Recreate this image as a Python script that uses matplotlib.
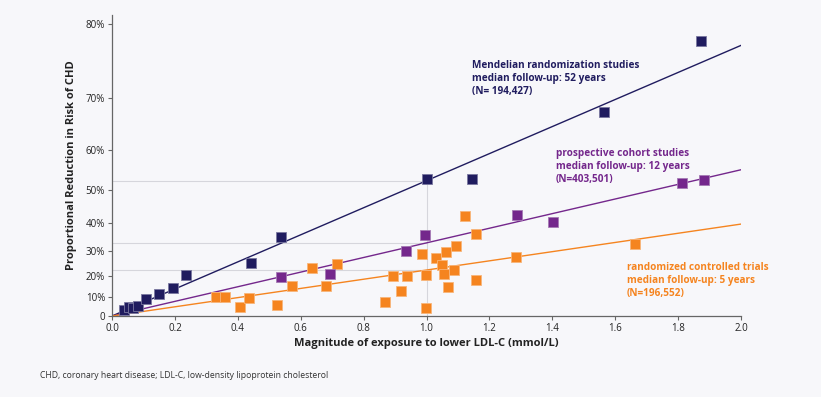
import numpy as np
import matplotlib
matplotlib.use("Agg")
import matplotlib.pyplot as plt

plt.rcParams['font.family'] = ['Open Sans', 'DejaVu Sans']

# data: x = mmol/L lower LDL-C, y = % reduction in CHD risk
mr_x = [0.039, 0.055, 0.068, 0.084, 0.108, 0.150, 0.195, 0.236, 0.442, 0.537,
        1.003, 1.145, 1.565, 1.873]
mr_y = [3.3, 5.0, 4.2, 5.5, 8.8, 11.3, 14.3, 20.3, 25.2, 35.3,
        53.0, 53.0, 67.6, 78.1]

pc_x = [0.537, 0.693, 0.935, 0.995, 1.289, 1.402, 1.813, 1.883]
pc_y = [19.5, 20.6, 30.3, 36.1, 42.7, 40.6, 51.9, 52.7]

rct_x = [0.331, 0.360, 0.407, 0.436, 0.524, 0.571, 0.636, 0.680, 0.716, 0.868,
         0.894, 0.920, 0.939, 0.987, 0.997, 0.997, 1.030, 1.049, 1.057, 1.061,
         1.068, 1.088, 1.094, 1.123, 1.156, 1.156, 1.285, 1.663]
rct_y = [9.8, 9.8, 5.0, 9.6, 5.7, 15.3, 23.2, 15.4, 24.8, 7.3,
         20.0, 12.8, 20.0, 28.9, 20.1, 4.5, 27.5, 24.4, 20.7, 29.7,
         14.7, 22.3, 31.9, 42.5, 36.5, 18.2, 27.8, 32.6]

# fitted reduction per 1 mmol/L (log-linear lines)
per_mmol = {'mr': 52.6, 'pc': 33.2, 'rct': 22.4}

navy = '#201c5f'
purple = '#74278c'
orange = '#f5841f'
bg = '#f7f7fa'


def fwd(y):
    y = np.asarray(y, dtype=float)
    return -np.log(1 - np.clip(y, None, 99.9) / 100.0)


def inv(z):
    return 100.0 * (1 - np.exp(-np.asarray(z, dtype=float)))


fig = plt.figure(figsize=(8.21, 3.97), dpi=100, facecolor=bg)
ax = fig.add_axes([112/821, 1 - 316/397, (741-112)/821, (316-15)/397])
ax.set_facecolor(bg)
ax.set_yscale('function', functions=(fwd, inv))
ax.set_xlim(0, 2.0)
ax.set_ylim(0, 81)

# reference lines at 1 mmol/L
for v in per_mmol.values():
    ax.plot([0, 1.0], [v, v], color='#d6d6dc', lw=0.8, zorder=1)
ax.plot([1.0, 1.0], [0, max(per_mmol.values())], color='#d6d6dc', lw=0.8, zorder=1)

xs = np.linspace(0, 2.0, 200)
for key, col in [('mr', navy), ('pc', purple), ('rct', orange)]:
    r1 = per_mmol[key] / 100.0
    ax.plot(xs, 100 * (1 - (1 - r1) ** xs), color=col, lw=1.0, zorder=2)

ms = 7
ax.plot(rct_x, rct_y, 's', ms=ms, color=orange, mec='#f8b57a', mew=0.6, zorder=3)
ax.plot(pc_x, pc_y, 's', ms=ms, color=purple, mec='#a57ab4', mew=0.6, zorder=3)
ax.plot(mr_x, mr_y, 's', ms=ms, color=navy, mec='#7a78a0', mew=0.6, zorder=3)

ax.set_xticks(np.arange(0, 2.01, 0.2))
ax.set_xticklabels([f'{t:.1f}' for t in np.arange(0, 2.01, 0.2)])
yt = [0, 10, 20, 30, 40, 50, 60, 70, 80]
ax.set_yticks(yt)
ax.set_yticklabels(['0'] + [f'{t}%' for t in yt[1:]])
ax.yaxis.set_minor_locator(matplotlib.ticker.NullLocator())
ax.tick_params(labelsize=7, length=3, width=0.8, color='#666666', labelcolor='#222222', pad=2)
for s in ['top', 'right']:
    ax.spines[s].set_visible(False)
for s in ['left', 'bottom']:
    ax.spines[s].set_color('#666666')
    ax.spines[s].set_linewidth(0.9)

ax.set_xlabel('Magnitude of exposure to lower LDL-C (mmol/L)', fontsize=8,
              fontweight='bold', color='#222222', labelpad=3)
ax.set_ylabel('Proportional Reduction in Risk of CHD', fontsize=8,
              fontweight='bold', color='#222222', labelpad=6)

tkw = dict(fontsize=7.2, fontweight='bold', va='top', ha='left', linespacing=1.25)
fig.text(472/821, 1 - 60/397,
         'Mendelian randomization studies\nmedian follow-up: 52 years\n(N= 194,427)',
         color=navy, **tkw)
fig.text(556/821, 1 - 148/397,
         'prospective cohort studies\nmedian follow-up: 12 years\n(N=403,501)',
         color=purple, **tkw)
fig.text(627/821, 1 - 262/397,
         'randomized controlled trials\nmedian follow-up: 5 years\n(N=196,552)',
         color=orange, **tkw)

fig.text(40/821, 1 - 376/397,
         'CHD, coronary heart disease; LDL-C, low-density lipoprotein cholesterol',
         fontsize=6.2, color='#333333', va='center', ha='left')

fig.savefig('out.png', dpi=100, facecolor=bg)
